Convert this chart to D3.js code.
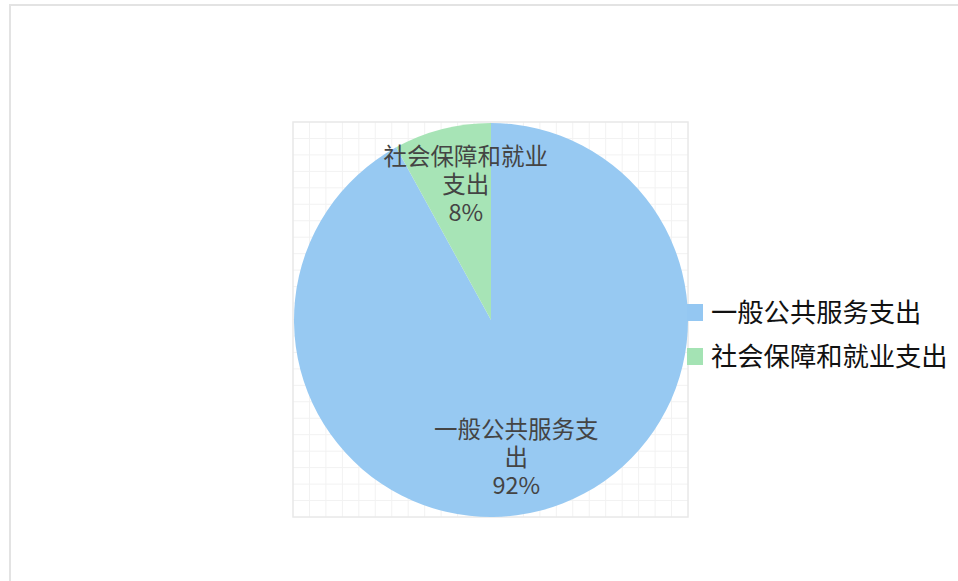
<!DOCTYPE html>
<html>
<head>
<meta charset="UTF-8">
<script src="https://d3js.org/d3.v7.min.js"></script>
<style>
  body { margin: 0; background: #fff; }
  svg { display: block; }
</style>
</head>
<body>
<svg id="svg" width="958" height="581"></svg>
<script>
// data
const categories = ["一般公共服务支出", "社会保障和就业支出"];
const values = [92, 8];
const labelLines = [["一般公共服务支", "出"], ["社会保障和就业", "支出"]];
const colors = ["#94c7f2", "#a4e3b4"];

const svg = d3.select("svg#svg");
const font = "'Noto Sans CJK SC', 'Noto Sans', sans-serif";

// outer frame
svg.append("rect")
  .attr("x", 10).attr("y", 5)
  .attr("width", 960).attr("height", 600)
  .attr("fill", "none")
  .attr("stroke", "#e3e3e3")
  .attr("stroke-width", 2);

const cx = 491, cy = 320, r = 197;

// background grid square behind pie
const gx = d3.scaleLinear().domain([0, 24]).range([cx - r - 1, cx + r]);
const gy = d3.scaleLinear().domain([0, 24]).range([cy - r - 1, cy + r]);
const grid = svg.append("g");
grid.selectAll("line.v").data(d3.range(1, 24)).enter().append("line")
  .attr("x1", d => gx(d)).attr("x2", d => gx(d))
  .attr("y1", gy(0)).attr("y2", gy(24))
  .attr("stroke", "#f2f2f2").attr("stroke-width", 1);
grid.selectAll("line.h").data(d3.range(1, 24)).enter().append("line")
  .attr("y1", d => gy(d)).attr("y2", d => gy(d))
  .attr("x1", gx(0)).attr("x2", gx(24))
  .attr("stroke", "#f2f2f2").attr("stroke-width", 1);
grid.append("rect")
  .attr("x", gx(0)).attr("y", gy(0))
  .attr("width", gx(24) - gx(0)).attr("height", gy(24) - gy(0))
  .attr("fill", "none").attr("stroke", "#e8e8e8").attr("stroke-width", 1.5);

// pie
const total = d3.sum(values);
const pie = d3.pie().sort(null).value(d => d);
const arcs = pie(values);
const arc = d3.arc().innerRadius(0).outerRadius(r);

const plot = svg.append("g").attr("transform", "translate(" + cx + "," + cy + ")");
plot.selectAll("path").data(arcs).enter().append("path")
  .attr("d", arc)
  .attr("fill", (d, i) => colors[i])
  .attr("opacity", 0.97);

// slice labels
const labelArc = d3.arc().innerRadius(r * 0.7).outerRadius(r * 0.7);
const labelOffsets = [[-9, 4], [9, -2]];
arcs.forEach((d, i) => {
  const c = labelArc.centroid(d);
  const lines = labelLines[i].concat([Math.round(values[i] / total * 100) + "%"]);
  const t = plot.append("text")
    .attr("text-anchor", "middle")
    .attr("font-family", font)
    .attr("font-size", "23.5px")
    .attr("fill", "#444");
  lines.forEach((s, j) => {
    t.append("tspan")
      .attr("x", c[0] + labelOffsets[i][0])
      .attr("y", c[1] + labelOffsets[i][1] + (j - 1) * 28 + 8.5)
      .text(s);
  });
});

// legend
const legendY = d3.scaleBand().domain(categories).range([290, 378]).padding(0);
const legend = svg.append("g");
categories.forEach((c, i) => {
  const y = legendY(c) + legendY.bandwidth() / 2;
  legend.append("rect")
    .attr("x", 687).attr("y", y - 8)
    .attr("width", 16).attr("height", 17)
    .attr("fill", colors[i]);
  legend.append("text")
    .attr("x", 711).attr("y", y + 10)
    .attr("font-family", font)
    .attr("font-size", "26.3px")
    .attr("fill", "#111")
    .text(c);
});
</script>
</body>
</html>
